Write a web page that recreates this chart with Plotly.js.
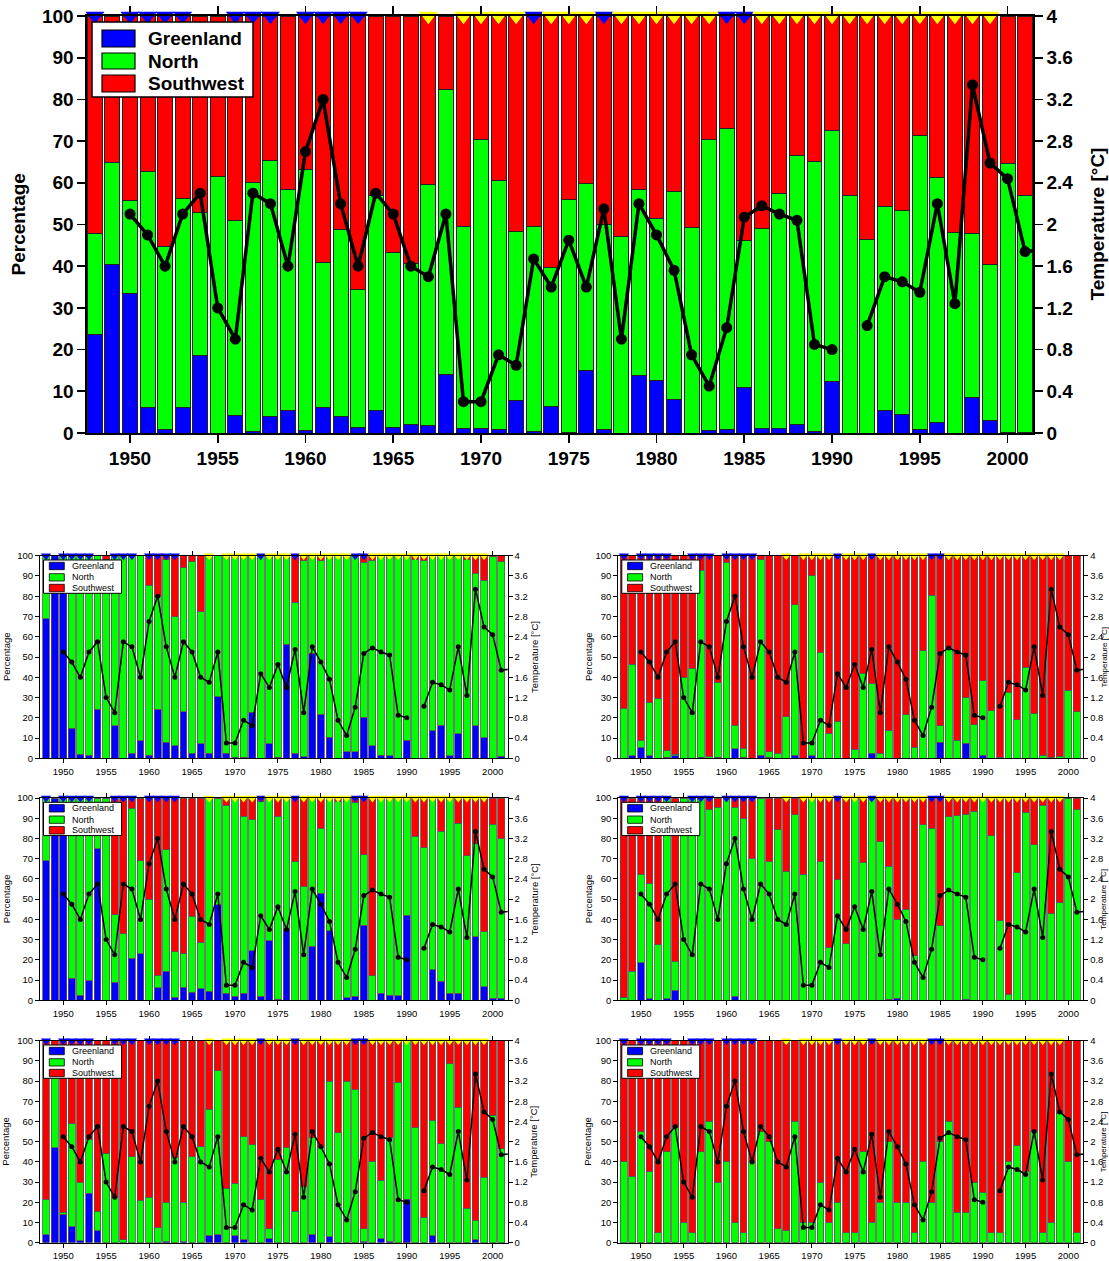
<!DOCTYPE html>
<html><head><meta charset="utf-8">
<script src="https://cdn.plot.ly/plotly-3.0.1.min.js"></script>
<style>html,body{margin:0;padding:0;background:#fff;}#chart{width:1109px;height:1261px;}</style>
</head><body><div id="chart"></div>
<script>
// ---------------- DATA ----------------
const years = [1948,1949,
 1950,1951,1952,1953,1954,1955,1956,1957,1958,1959,
 1960,1961,1962,1963,1964,1965,1966,1967,1968,1969,
 1970,1971,1972,1973,1974,1975,1976,1977,1978,1979,
 1980,1981,1982,1983,1984,1985,1986,1987,1988,1989,
 1990,1991,1992,1993,1994,1995,1996,1997,1998,1999,
 2000,2001];
const tempYears = [1948,1949,
 1950,1951,1952,1953,1954,1955,1956,1957,1958,1959,
 1960,1961,1962,1963,1964,1965,1966,1967,1968,1969,
 1970,1971,1972,1973,1974,1975,1976,1977,1978,1979,
 1980,1981,1982,1983,1984,1985,1986,1987,1988,1989,
 1990,1991,1992,1993,1994,1995,1996,1997,1998,1999,
 2000,2001,2002];
const temperature = [null,null,
 2.10,1.90,1.60,2.10,2.30,1.20,0.90,2.30,2.20,1.60,
 2.70,3.20,2.20,1.60,2.30,2.10,1.60,1.50,2.10,0.30,
 0.30,0.75,0.65,1.67,1.40,1.85,1.40,2.15,0.90,2.20,
 1.90,1.56,0.75,0.45,1.01,2.07,2.18,2.10,2.04,0.85,
 0.80,null,1.03,1.50,1.45,1.35,2.20,1.24,3.34,2.59,
 2.44,1.74,1.76];
const blueMarkerYears = [1948,1950,1951,1952,1953,1956,1957,1958,1960,1961,1962,1963,1973,1977,1984,1985];
const yellowMarkerYears = [1967,1969,1970,1971,1972,1974,1975,1976,1978,1979,1980,1981,1982,1983,
 1986,1987,1988,1989,1990,1991,1992,1993,1994,1995,1996,1997,1998,1999];
const xTickYears = [1950,1955,1960,1965,1970,1975,1980,1985,1990,1995,2000];
const seriesNames = ['Greenland','North','Southwest'];

// Main (top) panel
const mainGreenland = [23.6,40.5,
 33.4,6.1,0.9,6.2,18.5,0,4.2,0.3,4.0,5.4,
 0.5,6.2,4.0,1.3,5.3,1.3,2.1,1.8,14.0,1.0,
 1.2,0.9,7.8,0.4,6.4,0.1,15.0,0.9,0,13.7,
 12.6,8.0,0,0.5,0.8,10.9,1.0,1.2,2.0,0.3,
 12.4,0,0,5.4,4.4,0.8,2.6,0,8.4,2.9,
 0.1,0.2];
const mainNorth = [24.2,24.4,
 22.4,56.5,43.9,50.0,34.3,61.4,46.7,59.8,61.4,53.0,
 62.7,34.7,44.8,33.1,51.7,41.9,38.6,57.8,68.4,48.6,
 69.2,59.6,40.6,49.2,33.3,55.9,44.8,49.2,47.2,44.7,
 38.8,50.0,49.3,69.9,72.2,35.3,48.1,56.2,64.5,64.9,
 60.1,57.0,46.4,49.0,48.9,70.6,58.7,48.2,39.5,37.5,
 64.6,56.7];
const mainSouthwest = [52.2,35.1,
 44.2,37.4,55.2,43.8,47.2,38.6,49.1,39.9,34.6,41.6,
 36.8,59.1,51.2,65.6,43.0,56.8,59.3,40.4,17.6,50.4,
 29.6,39.5,51.6,50.4,60.3,44.0,40.2,49.9,52.8,41.6,
 48.6,42.0,50.7,29.6,27.0,53.8,50.9,42.6,33.5,34.8,
 27.5,43.0,53.6,45.6,46.7,28.6,38.7,51.8,52.1,59.6,
 35.3,43.1];

// Panel A (row 1, left)
const aGreenland = [69,100,
 90,14.8,2.1,1.6,24.2,0,16.1,0,2.5,8.6,
 1.6,24.2,7.9,6.1,23.0,2.5,7.1,2.5,30.4,2.5,
 0.5,0.5,22.7,0,7.1,0.5,56.4,2.5,0.7,51.8,
 21.7,10.4,0,3.3,3.3,20.2,6.2,1.6,1.3,0,
 9.0,0,0,13.7,16.4,1.2,12.0,0,16.1,10.2,
 0,1.0];
const aNorth = [31,0,
 10,85.2,97.9,98.4,75.8,97.9,83.9,100,97.5,91.4,
 83.9,55.6,90.0,63.8,71.1,94.5,65.3,97.5,69.6,97.5,
 99.5,99.5,77.3,100,92.9,99.5,43.6,74.5,96.7,48.2,
 75.7,89.6,100,96.7,96.7,76.5,91.5,98.4,98.7,100,
 91.0,97.9,97.4,86.3,83.6,98.8,88.0,97.9,75.2,77.8,
 99.5,96.0];
const aSouthwest = [0,0,
 0,0,0,0,0,2.1,0,0,0,0,
 14.5,20.2,2.1,30.1,5.9,3.0,27.6,0,0,0,
 0,0,0,0,0,0,0,23.0,2.6,0,
 2.6,0,0,0,0,3.3,2.3,0,0,0,
 0,2.1,2.6,0,0,0,0,2.1,8.7,12.0,
 0.5,3.0];

// Panel B (row 1, right)
const bGreenland = [0,1.2,
 5.3,1.2,0,0.5,1.2,0,0,0.5,0,0.5,
 0,4.6,0.5,0,1.6,0.5,0,0,1.6,0,
 1.2,0,0,0,0,0,0,2.5,0,0,
 0,0,0,0,0,8.0,0,0,7.4,0,
 1.6,0,0,0,0,0,0,0,0,0,
 0,0];
const bNorth = [24.7,45.3,
 3.7,26.4,29.6,3.3,0.8,40.0,44.4,92.4,0.8,37.0,
 96.7,11.8,4.4,0,96.3,2.8,2.5,20.6,74.1,0,
 88.8,52.3,12.3,18.0,0,4.5,42.0,34.3,2.5,13.5,
 0,21.5,5.5,53.0,80.5,8.0,54.0,9.0,22.6,16.5,
 36.7,23.5,0.5,32.5,19.0,45.0,22.0,1.5,0.5,1.0,
 33.5,23.0];
const bSouthwest = [75.3,53.5,
 91.0,72.4,70.4,96.2,98.0,60.0,55.6,7.1,99.2,62.5,
 3.3,83.6,95.1,100,2.1,96.7,97.5,79.4,24.3,100,
 10.0,47.7,87.7,82.0,100,95.5,58.0,63.2,97.5,86.5,
 100,78.5,94.5,47.0,19.5,84.0,46.0,91.0,70.0,83.5,
 61.7,76.5,99.5,67.5,81.0,55.0,78.0,98.5,99.5,99.0,
 66.5,77.0];

// Panel C (row 2, left)
const cGreenland = [69,100,
 88,11,2.5,9.7,75,0,9,0,20.9,23,
 0,6.1,14.3,1.5,6.4,4.1,5.6,4.4,47.3,3.6,
 2.0,3.6,24.5,2.0,29.5,0.5,35,0,0,26.7,
 53,34.5,0,1.2,2.0,37,0,3.6,2.5,2.2,
 42,0,0,15,9.5,3.6,3.6,0,31.5,6.7,
 1.0,1.0];
const cNorth = [31,0,
 12,89,97.5,90.3,25,100,33.3,33,74.1,46,
 50,6.3,60.2,22.4,16.6,37.4,23.2,95.6,52.7,92.8,
 98,87.4,64.8,96.4,70.5,90.5,65,68.4,56.5,73.3,
 32,65.5,98.3,98.8,96,35,12.2,96.4,97.5,97.8,
 58,81,75.5,85,74,96.4,83.9,71.5,46,27.3,
 86,79];
const cSouthwest = [0,0,
 0,0,0,0,0,0,57.7,67,5,31,
 50,87.6,25.5,76.1,77,58.5,71.2,0,0,3.6,
 0,9,10.7,1.6,0,9,0,31.6,43.5,0,
 15,0,1.7,0,2,28,87.8,0,0,0,
 0,19,24.5,0,16.5,0,12.5,28.5,22.5,66,
 13,20];

// Panel D (row 2, right)
const dGreenland = [0,0,
 18.5,0.8,0,0.8,5,0,0,0,0,0,
 0,2,0,0,0,0,0,0,0,0,
 0,0,0,0,0,0,0,0,0,0.5,
 1,0,0,0,0,0,0,0,0.5,0,
 0,0,0,0,0,0,0,0,0,0,
 0,0];
const dNorth = [1.5,14.3,
 43.9,56.9,27.5,99.2,14.3,100,100,100,94.2,95.5,
 100,93.5,89.8,70,100,68.4,84.3,63.8,91.8,62.4,
 100,68.4,25.9,59.6,28,100,68.3,100,78.3,65.8,
 39,45,22,86.8,85,36.8,90.8,91.3,91.5,93.5,
 100,81.3,39.3,3,63,93,76.8,96.5,42.8,48.3,
 100,94.3];
const dSouthwest = [98.5,85.7,
 37.6,42.3,72.5,0,80.7,0,0,0,5.8,4.5,
 0,4.5,10.2,30,0,31.6,15.7,36.2,8.2,37.6,
 0,31.6,74.1,40.4,72,0,31.7,0,21.7,33.7,
 60,55,78,13.2,15,63.2,9.2,8.7,8,6.5,
 0,18.7,60.7,97,37,7,23.2,3.5,57.2,51.7,
 0,5.7];

// Panel E (row 3, left)
const eGreenland = [4,47,
 14,8,1,24.5,6,0,0,0,0,0,
 0,0,0.5,0,0.5,0,0,3.5,4,0,
 3.5,1.5,0,0,2,0,0,0,0,4,
 0,3,0,0,0,0.5,0,2,0.5,0,
 21.5,0,0,3.5,0,0,0,0,1.5,0,
 0,0];
const eNorth = [17.5,38,
 1,51,29,26.5,9.5,44,22.5,1.5,42.5,21,
 22.5,7.5,19.5,42,19.5,42.5,47.5,62.5,81,27,
 26,51,48.5,21.5,5,41,47,15.5,28,48,
 47,77,54.5,80,76,6.5,40,29,51.5,79.5,
 78.5,57,12.5,57,49,88.5,67,17,9.5,32.5,
 63,46.5];
const eSouthwest = [78.5,15,
 85,41,70,49,84.5,56,77.5,98.5,57.5,79,
 77.5,92.5,80,58,80,57.5,52.5,34,15,73,
 70.5,47.5,51.5,78.5,93,59,53,84.5,72,48,
 53,20,45.5,20,24,93,60,69,48,20.5,
 0,43,87.5,39.5,51,11.5,33,83,89,67.5,
 37,53.5];

// Panel F (row 3, right)
const fGreenland = [0,0,
 0,0,0,0,0,0,0,0,0,0,
 0,0,0,0,0,0,0,0,0,0,
 0,0,0,0,0,0,0,0,0,0,
 0,0,0,0,0,0,0,0,0,0,
 0,0,0,0,0,0,0,0,0,0,
 0,0];
const fNorth = [40,33,
 55,35,5,45,57,10,5,45,60,30,
 40,10,5,40,55,50,7,6,60,10,
 10,30,10,20,5,5,45,10,20,50,
 20,20,5,40,20,50,60,15,15,30,
 25,5,5,40,48,35,55,5,10,64,
 40,5];
const fSouthwest = [60,67,
 45,65,95,55,43,90,95,55,40,70,
 60,90,95,60,45,50,93,94,40,90,
 90,70,90,80,95,95,55,90,80,50,
 80,80,95,60,80,50,40,85,85,70,
 75,95,95,60,52,65,45,95,90,36,
 60,95];

// ---------------- LAYOUT / STYLE ----------------
const W = 1109, H = 1261;
const FONT = 'Liberation Sans, Arial, Helvetica, sans-serif';
const panels = [
  {data:[mainGreenland, mainNorth, mainSouthwest], box:[87,16,1033,433], big:true, range:[1947.55,2001.45]},
  {data:[aGreenland,aNorth,aSouthwest], box:[40,555.7,507.7,758.3], range:[1947.3,2001.75]},
  {data:[bGreenland,bNorth,bSouthwest], box:[618.3,555.7,1083.3,758.3], range:[1947.35,2001.75]},
  {data:[cGreenland,cNorth,cSouthwest], box:[40,798,507.7,1000.3], range:[1947.3,2001.75]},
  {data:[dGreenland,dNorth,dSouthwest], box:[618.3,798,1083.3,1000.3], range:[1947.35,2001.75]},
  {data:[eGreenland,eNorth,eSouthwest], box:[40,1040.7,507.7,1242.7], range:[1947.3,2001.75]},
  {data:[fGreenland,fNorth,fSouthwest], box:[618.3,1040.7,1083.3,1242.7], range:[1947.35,2001.75]}
];
const colors = ['#0000ff','#00ff00','#ff0000'];
const px = v => v / W;
const py = v => 1 - v / H;

const traces = [];
const layout = {
  width: W, height: H, margin:{l:0,r:0,t:0,b:0},
  paper_bgcolor:'#fff', plot_bgcolor:'#fff',
  barmode:'stack', showlegend:false, hovermode:false,
  font:{family:FONT, color:'#000'},
  annotations:[], shapes:[]
};

panels.forEach((p, i) => {
  const big = !!p.big;
  const xa = i ? 'x'+(i+1) : 'x';
  const yl = i ? 'y'+(2*i+1) : 'y';
  const yr = 'y'+(2*i+2);
  const xKey = i ? 'xaxis'+(i+1) : 'xaxis';
  const ylKey = i ? 'yaxis'+(2*i+1) : 'yaxis';
  const yrKey = 'yaxis'+(2*i+2);
  const [x0,y0,x1,y1] = p.box;
  const tickFont = big ? {family:FONT, size:19, weight:'bold', color:'#000'} : {family:FONT, size:9.5, color:'#000'};
  const lw = big ? 1.6 : 1;
  const tl = big ? 8 : 4;

  seriesNames.forEach((nm, k) => {
    traces.push({
      type:'bar', x: years, y: p.data[k], name: nm,
      xaxis: xa, yaxis: yl,
      width: big ? 0.85 : 0.8,
      marker:{color: colors[k], line:{color: big ? '#222' : '#555', width: big ? 1 : 0.8}},
      hoverinfo:'skip'
    });
  });
  // flag markers on the top edge (drawn on the overlay axis so they sit above the bars)
  const mSize = big ? 16.5 : 9;
  traces.push({
    type:'scatter', mode:'markers', x: blueMarkerYears, y: blueMarkerYears.map(() => 4),
    xaxis: xa, yaxis: yr, cliponaxis:false, hoverinfo:'skip',
    marker:{symbol:'triangle-down', size: mSize, color:'#0000ff', line:{width:0}}
  });
  traces.push({
    type:'scatter', mode:'markers', x: yellowMarkerYears, y: yellowMarkerYears.map(() => 4),
    xaxis: xa, yaxis: yr, cliponaxis:false, hoverinfo:'skip',
    marker:{symbol:'triangle-down', size: mSize, color:'#ffff00', line:{width:0}}
  });
  traces.push({
    type:'scatter', mode:'lines+markers', x: tempYears, y: temperature,
    xaxis: xa, yaxis: yr, connectgaps:false, hoverinfo:'skip',
    line:{color:'#000', width: big ? 3.5 : 1.5},
    marker:{color:'#000', size: big ? 11 : 5}
  });

  layout[xKey] = {
    domain: [px(x0), px(x1)], range: p.range, anchor: yl, autorange:false,
    showline:true, linecolor:'#000', linewidth: lw, mirror:'ticks',
    ticks:'outside', ticklen: tl, tickwidth: lw, tickcolor:'#000',
    tickmode:'array', tickvals: xTickYears, ticktext: xTickYears.map(String),
    tickfont: tickFont, showgrid:false, zeroline:false
  };
  layout[ylKey] = {
    domain: [py(y1), py(y0)], range:[0,100], anchor: xa, autorange:false,
    showline:true, linecolor:'#000', linewidth: lw,
    ticks:'outside', ticklen: tl, tickwidth: lw, tickcolor:'#000',
    tick0:0, dtick:10, tickfont: tickFont, showgrid:false, zeroline:false
  };
  layout[yrKey] = {
    overlaying: yl, side:'right', anchor: xa, range:[0,4], autorange:false,
    showline:true, linecolor:'#000', linewidth: lw,
    ticks:'outside', ticklen: tl, tickwidth: lw, tickcolor:'#000',
    tick0:0, dtick:0.4, tickfont: tickFont, showgrid:false, zeroline:false
  };

  // legend box (drawn as shapes + text)
  const L = big
    ? {box:[5,6,166,81], sw:[15,48], rows:[[14,31],[37,53],[59,76]], tx:59, size:19}
    : {box:[3.5,4.3,81.5,37.6], sw:[9.3,24.3], rows:[[6.6,14],[18,25.3],[28.6,36]], tx:30, size:9};
  layout.shapes.push({type:'rect', xref:'paper', yref:'paper', layer:'above',
    x0: px(x0+L.box[0]), x1: px(x0+L.box[2]), y0: py(y0+L.box[1]), y1: py(y0+L.box[3]),
    fillcolor:'#fff', line:{color:'#000', width: big ? 1.5 : 1}});
  seriesNames.forEach((nm, k) => {
    const r = L.rows[k];
    layout.shapes.push({type:'rect', xref:'paper', yref:'paper', layer:'above',
      x0: px(x0+L.sw[0]), x1: px(x0+L.sw[1]), y0: py(y0+r[0]), y1: py(y0+r[1]),
      fillcolor: colors[k], line:{color:'#000', width: big ? 1.2 : 0.8}});
    layout.annotations.push({text: nm, xref:'paper', yref:'paper',
      x: px(x0+L.tx), y: py(y0+(r[0]+r[1])/2), xanchor:'left', yanchor:'middle', showarrow:false,
      font: big ? {family:FONT, size:L.size, weight:'bold', color:'#000'} : {family:FONT, size:L.size, color:'#000'}});
  });

  // axis titles
  const yc = py((y0+y1)/2);
  const titleFont = big ? {family:FONT, size:19, weight:'bold', color:'#000'} : {family:FONT, size:9.5, color:'#000'};
  let lx, rx, rFont = titleFont;
  if (big) { lx = 18; rx = 1097; }
  else if (x0 < 100) { lx = 6; rx = 534; }
  else { lx = 588; rx = 1103.5; rFont = {family:FONT, size:8, color:'#000'}; }
  layout.annotations.push({
    text:'Percentage', xref:'paper', yref:'paper', x: px(lx), y: yc,
    xanchor:'center', yanchor:'middle', textangle:-90, showarrow:false, font: titleFont
  });
  layout.annotations.push({
    text:'Temperature [°C]', xref:'paper', yref:'paper', x: px(rx), y: yc,
    xanchor:'center', yanchor:'middle', textangle:-90, showarrow:false, font: rFont
  });
});

Plotly.newPlot('chart', traces, layout, {staticPlot:true, displayModeBar:false});
</script>
</body></html>
